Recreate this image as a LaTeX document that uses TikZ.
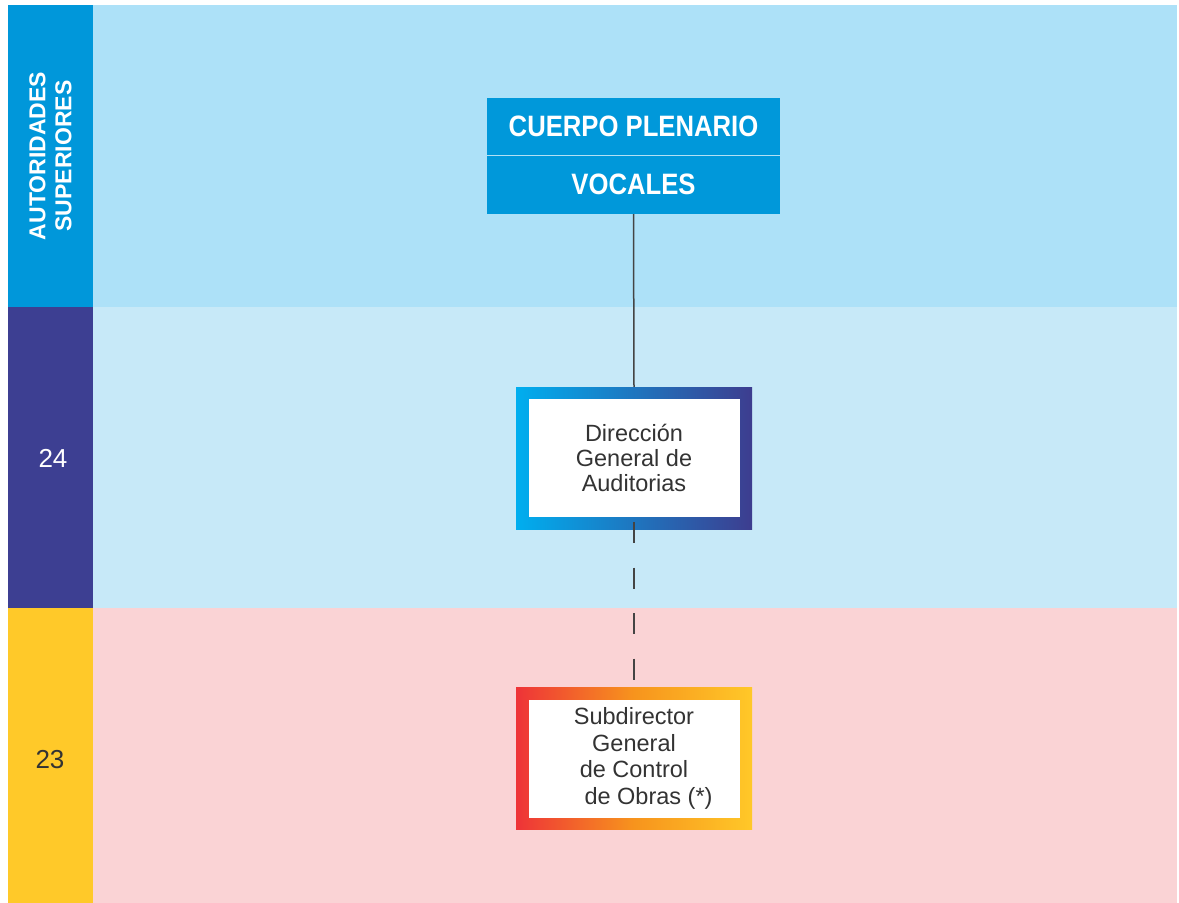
\documentclass[tikz,border=0pt]{standalone}
\usepackage{fontspec}
\setmainfont{Liberation Sans}
\newfontfamily\narrowfont[FakeStretch=0.87]{Liberation Sans}
\usepackage{xcolor}
\usetikzlibrary{positioning, calc}

\definecolor{bandtop}{HTML}{ADE1F8}
\definecolor{bandmid}{HTML}{C7E9F8}
\definecolor{bandlow}{HTML}{FAD3D5}
\definecolor{sidetop}{HTML}{0097DA}
\definecolor{sidemid}{HTML}{3D3F92}
\definecolor{sidelow}{HTML}{FFC929}
\definecolor{headblue}{HTML}{0098DA}
\definecolor{boxtext}{HTML}{333333}
\definecolor{linkgray}{HTML}{444444}
\definecolor{cyanedge}{HTML}{00AEEF}
\definecolor{indigoedge}{HTML}{3D3D8F}
\definecolor{rededge}{HTML}{EE3338}
\definecolor{orangeedge}{HTML}{F7941D}
\definecolor{yellowedge}{HTML}{FFC828}

\tikzset{
  headbox/.style={fill=headblue, text=white, minimum width=293pt, inner sep=0pt,
    font=\narrowfont\bfseries\fontsize{29.5}{31}\selectfont},
  gradbox/.style={minimum width=236pt, minimum height=142pt, inner sep=0pt},
  innerbox/.style={fill=white, minimum width=211pt, minimum height=118pt, inner sep=0pt,
    align=center, text=boxtext},
  sidelabel/.style={align=center, font=\fontsize{26}{28}\selectfont},
  link/.style={draw=linkgray, line width=1.5pt},
  dashlink/.style={link, dash pattern=on 21pt off 24.5pt},
}

\begin{document}
\begin{tikzpicture}[x=1pt, y=-1pt]

    \useasboundingbox[fill=white] (0,0) rectangle (1179,903);

    % Level bands
    \fill[bandtop] (93,5) rectangle (1177,307);
    \fill[bandmid] (93,307) rectangle (1177,608);
    \fill[bandlow] (93,608) rectangle (1177,903);

    % Side column
    \fill[sidetop] (8,5) rectangle (93,307);
    \fill[sidemid] (8,307) rectangle (93,608);
    \fill[sidelow] (8,608) rectangle (93,903);

    \node[sidelabel, rotate=90, text=white, font=\bfseries\fontsize{23}{26}\selectfont]
        (autoridades) at (50.5,156) {AUTORIDADES\\SUPERIORES};
    \node[sidelabel, text=white] (nivel24) at (53,458) {24};
    \node[sidelabel, text=boxtext] (nivel23) at (50,760) {23};

    % Top box
    \node[headbox, minimum height=57pt] (plenario) at (633.5,126.5) {CUERPO PLENARIO};
    \node[headbox, minimum height=59pt] (vocales) at (633.5,184.5) {VOCALES};
    \draw[white!70!headblue, line width=1pt] (plenario.south west) -- (plenario.south east);

    % Direccion General de Auditorias
    \node[gradbox, left color=cyanedge, right color=indigoedge] (dga) at (634,458) {};
    \node[innerbox, font=\fontsize{23.5}{25}\selectfont] (dgatext) at (dga.center)
        {Dirección\\General de\\Auditorias};

    % Subdirector General de Control de Obras
    \node[gradbox, left color=rededge, right color=yellowedge, middle color=orangeedge]
        (sdg) at (634,758.5) {};
    \node[innerbox, font=\fontsize{23.5}{26.7}\selectfont] (sdgtext) at (sdg.center)
        {Subdirector\\General\\de Control\\\hspace*{29pt}de Obras (*)};

    % Connectors
    \draw[link] (vocales.south) -- (dga.north);
    \draw[dashlink, shorten <=-7pt, shorten >=7pt] (dga.south) -- (sdg.north);

\end{tikzpicture}
\end{document}
